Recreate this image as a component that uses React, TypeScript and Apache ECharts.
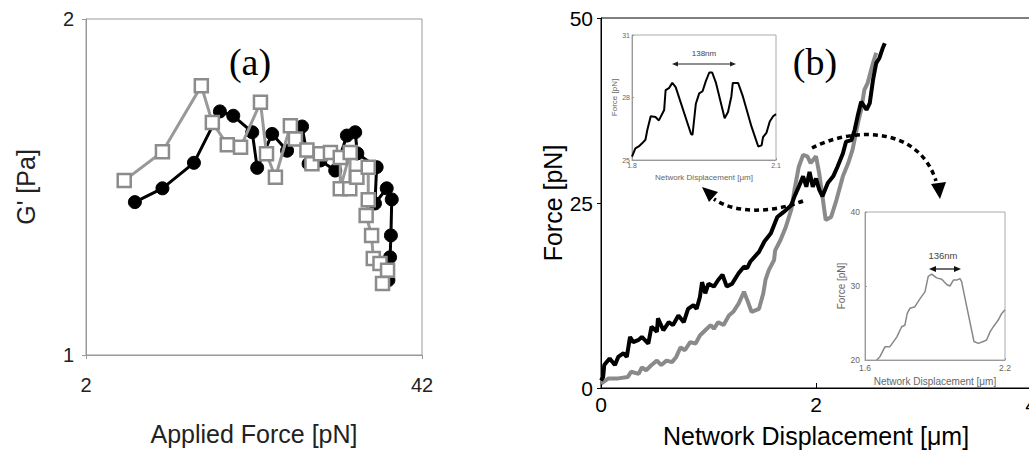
import React, { useEffect, useRef } from "react";
import * as echarts from "echarts";

// Panel (a): G' vs applied force
const aBlack: [number, number][] = [
  [7.82, 1.455], [11.1, 1.496], [14.85, 1.572], [17.94, 1.725], [19.53, 1.712],
  [21.79, 1.663], [22.38, 1.557], [24.16, 1.658], [25.94, 1.608], [27.72, 1.68],
  [28.5, 1.569], [29.9, 1.579], [31.67, 1.549], [33.06, 1.653], [34.05, 1.663],
  [34.3, 1.6], [36.6, 1.559], [36.4, 1.451], [37.8, 1.496], [38.4, 1.463],
  [38.3, 1.356], [38.2, 1.291], [38.0, 1.223],
];
const aGray: [number, number][] = [
  [6.55, 1.519], [11.1, 1.605], [15.73, 1.801], [17.04, 1.692], [18.82, 1.626],
  [20.4, 1.618], [22.77, 1.752], [23.49, 1.599], [24.55, 1.529], [26.33, 1.682],
  [26.93, 1.643], [28.3, 1.61], [28.9, 1.569], [29.9, 1.599], [31.1, 1.603],
  [32.27, 1.588], [32.27, 1.495], [33.45, 1.603], [33.4, 1.495], [34.25, 1.529],
  [35.6, 1.559], [35.6, 1.462], [35.35, 1.415], [36.0, 1.356], [36.2, 1.287],
  [37.0, 1.272], [37.9, 1.252], [37.3, 1.213],
];

// Panel (b): force vs network displacement
const bBlack: [number, number][] = [
  [0.0, 1.0], [0.02, 1.5], [0.03, 3.1], [0.08, 4.0], [0.13, 3.1], [0.16, 4.2],
  [0.21, 4.7], [0.24, 4.2], [0.27, 6.9], [0.3, 6.2], [0.35, 6.5], [0.38, 6.9],
  [0.44, 6.0], [0.47, 8.3], [0.52, 7.6], [0.53, 9.4], [0.58, 7.8], [0.63, 8.9],
  [0.67, 8.5], [0.72, 9.8], [0.77, 8.9], [0.81, 10.7], [0.86, 11.2], [0.89, 10.7],
  [0.92, 12.3], [0.94, 14.3], [0.97, 12.8], [1.0, 14.1], [1.05, 13.7], [1.09, 14.6],
  [1.13, 15.3], [1.17, 13.7], [1.22, 14.1], [1.28, 15.5], [1.33, 16.4], [1.36, 16.2],
  [1.39, 17.1], [1.47, 18.4], [1.52, 19.8], [1.58, 20.9], [1.64, 23.1], [1.7, 23.8],
  [1.77, 24.7], [1.8, 25.9], [1.84, 27.2], [1.88, 28.6], [1.91, 27.2], [1.94, 29.2],
  [1.97, 27.2], [2.0, 28.3], [2.03, 26.8], [2.06, 25.9], [2.11, 27.7], [2.16, 28.6],
  [2.2, 29.9], [2.25, 31.7], [2.28, 33.3], [2.33, 33.5], [2.36, 34.9], [2.39, 36.9],
  [2.42, 38.7], [2.47, 37.6], [2.5, 38.5], [2.53, 41.6], [2.56, 43.9], [2.59, 44.6],
  [2.62, 45.9], [2.64, 46.6],
];
const bGray: [number, number][] = [
  [0.0, 0.6], [0.02, 0.8], [0.07, 1.3], [0.16, 1.3], [0.25, 1.5], [0.28, 2.2],
  [0.35, 1.9], [0.38, 2.8], [0.42, 2.4], [0.47, 3.1], [0.52, 3.7], [0.56, 3.1],
  [0.61, 3.7], [0.66, 3.5], [0.7, 4.2], [0.74, 5.5], [0.78, 5.1], [0.83, 6.2],
  [0.88, 6.0], [0.92, 7.1], [0.97, 7.8], [1.02, 8.5], [1.05, 8.0], [1.09, 8.9],
  [1.14, 8.5], [1.19, 9.8], [1.23, 10.3], [1.28, 11.4], [1.33, 13.0], [1.36, 11.9],
  [1.4, 10.3], [1.47, 10.7], [1.51, 12.8], [1.53, 14.6], [1.56, 15.9], [1.61, 17.3],
  [1.62, 18.6], [1.67, 20.0], [1.72, 21.8], [1.77, 24.1], [1.8, 26.8], [1.84, 29.9],
  [1.88, 31.5], [1.92, 31.3], [1.95, 30.4], [2.0, 31.3], [2.03, 29.0], [2.06, 25.9],
  [2.09, 22.7], [2.14, 23.1], [2.19, 25.4], [2.25, 28.6], [2.3, 30.4], [2.34, 32.2],
  [2.39, 35.8], [2.42, 37.6], [2.45, 40.3], [2.48, 41.2], [2.53, 43.9], [2.56, 45.3],
];

// Inset 1 (black, 1.8–2.1 µm)
const inset1: [number, number][] = [
  [1.8, 25.16], [1.807, 25.56], [1.814, 25.65], [1.821, 25.8], [1.828, 25.97],
  [1.832, 26.45], [1.839, 27.1], [1.849, 27.06], [1.856, 26.9], [1.867, 27.4],
  [1.87, 28.35], [1.877, 28.45], [1.884, 28.7], [1.891, 28.5], [1.923, 26.25],
  [1.926, 26.2], [1.933, 27.7], [1.94, 28.2], [1.947, 28.3], [1.954, 28.8],
  [1.961, 29.2], [1.967, 29.2], [1.975, 28.7], [1.993, 27.0], [2.0, 27.3],
  [2.007, 28.05], [2.01, 28.7], [2.021, 28.7], [2.031, 28.05], [2.049, 26.6],
  [2.063, 25.65], [2.07, 25.7], [2.073, 26.1], [2.08, 26.3], [2.087, 26.85],
  [2.094, 27.1], [2.1, 27.2],
];

// Inset 2 (gray, 1.6–2.2 µm)
const inset2: [number, number][] = [
  [1.65, 20.0], [1.664, 20.45], [1.686, 21.8], [1.707, 21.8], [1.736, 23.1],
  [1.757, 24.5], [1.771, 24.7], [1.781, 26.3], [1.793, 27.0], [1.814, 27.2],
  [1.836, 28.3], [1.857, 29.2], [1.871, 31.3], [1.886, 31.6], [1.907, 31.1],
  [1.929, 30.9], [1.95, 30.2], [1.964, 30.0], [1.979, 30.8], [1.993, 30.8],
  [2.007, 31.0], [2.014, 30.6], [2.036, 27.2], [2.067, 22.5], [2.086, 22.25],
  [2.107, 22.5], [2.121, 22.7], [2.136, 23.8], [2.15, 24.5], [2.171, 25.4],
  [2.186, 26.3], [2.2, 26.8],
];

const SANS = "Liberation Sans, Arial, sans-serif";
const SERIF = "Liberation Serif, Times New Roman, serif";

export default function App() {
  const ref = useRef<HTMLDivElement>(null);
  useEffect(() => {
    if (!ref.current) return;
    const chart = echarts.init(ref.current, undefined, { renderer: "svg" });
    const smallAxis = (grid: number, min: number, max: number, interval: number, fs: number, margin: number, name: string, gap: number, nfs: number, isY: boolean) => ({
      type: "value",
      gridIndex: grid,
      min, max, interval,
      axisLine: { show: true, lineStyle: { color: "#999", width: 1 } },
      axisTick: { show: true, inside: true, length: 2, lineStyle: { color: "#999" } },
      splitLine: { show: false },
      axisLabel: { fontSize: fs, color: "#666", fontFamily: SANS, margin, showMinLabel: true, showMaxLabel: true, hideOverlap: false },
      name,
      nameLocation: "middle",
      nameGap: gap,
      nameRotate: isY ? 90 : 0,
      nameTextStyle: { fontSize: nfs, color: "#666", fontFamily: SANS },
      z: 11,
    });
    const gridBase = { show: true, borderWidth: 1, containLabel: false, outerBoundsMode: "none" };

    chart.setOption({
      animation: false,
      backgroundColor: "#fff",
      grid: [
        { ...gridBase, left: 86, top: 19, width: 336, height: 336, borderColor: "#999", backgroundColor: "transparent" },
        { ...gridBase, left: 601, top: 18, width: 430, height: 370, borderColor: "#000", backgroundColor: "transparent" },
        { ...gridBase, left: 632, top: 35, width: 144, height: 125, borderColor: "#aaa", backgroundColor: "#fff", z: 10 },
        { ...gridBase, left: 865, top: 212, width: 140, height: 148, borderColor: "#aaa", backgroundColor: "#fff", z: 10 },
      ],
      xAxis: [
        {
          type: "value", gridIndex: 0, min: 2, max: 42, interval: 40,
          axisLine: { lineStyle: { color: "#999" } },
          axisTick: { show: true, length: 4, lineStyle: { color: "#999" } },
          splitLine: { show: false },
          axisLabel: { fontSize: 20, color: "#222", fontFamily: SANS, margin: 20 },
          name: "Applied Force [pN]", nameLocation: "middle", nameGap: 66,
          nameTextStyle: { fontSize: 25, color: "#222", fontFamily: SANS },
        },
        {
          type: "value", gridIndex: 1, min: 0, max: 4, interval: 2,
          axisLine: { lineStyle: { color: "#000" } },
          axisTick: { show: true, inside: true, length: 5, lineStyle: { color: "#000" } },
          splitLine: { show: false },
          axisLabel: { fontSize: 21, color: "#000", fontFamily: SANS, margin: 6 },
          name: "Network Displacement [μm]", nameLocation: "middle", nameGap: 35,
          nameTextStyle: { fontSize: 25, color: "#000", fontFamily: SANS },
        },
        smallAxis(2, 1.8, 2.1, 0.3, 7, 2, "Network Displacement [μm]", 13, 8, false),
        smallAxis(3, 1.6, 2.2, 0.6, 8.5, 3, "Network Displacement [μm]", 16, 10, false),
      ],
      yAxis: [
        {
          type: "value", gridIndex: 0, min: 1, max: 2, interval: 1,
          axisLine: { show: true, lineStyle: { color: "#999" } },
          axisTick: { show: true, length: 4, lineStyle: { color: "#999" } },
          splitLine: { show: false },
          axisLabel: { fontSize: 20, color: "#222", fontFamily: SANS, margin: 12 },
          name: "G' [Pa]", nameLocation: "middle", nameGap: 48, nameRotate: 90,
          nameTextStyle: { fontSize: 25, color: "#222", fontFamily: SANS },
        },
        {
          type: "value", gridIndex: 1, min: 0, max: 50, interval: 25,
          axisLine: { show: true, lineStyle: { color: "#000" } },
          axisTick: { show: true, length: 4, lineStyle: { color: "#000" } },
          splitLine: { show: false },
          axisLabel: { fontSize: 21, color: "#000", fontFamily: SANS, margin: 8 },
          name: "Force [pN]", nameLocation: "middle", nameGap: 36, nameRotate: 90,
          nameTextStyle: { fontSize: 25, color: "#000", fontFamily: SANS },
        },
        smallAxis(2, 25, 31, 3, 7, 2, "Force [pN]", 12, 8, true),
        smallAxis(3, 20, 40, 10, 8.5, 5, "Force [pN]", 16, 10, true),
      ],
      series: [
        {
          type: "line", xAxisIndex: 0, yAxisIndex: 0, data: aBlack,
          symbol: "circle", symbolSize: 13, showAllSymbol: true,
          lineStyle: { color: "#000", width: 3 },
          itemStyle: { color: "#000", borderColor: "#000", borderWidth: 1 },
          z: 3,
        },
        {
          type: "line", xAxisIndex: 0, yAxisIndex: 0, data: aGray,
          symbol: "rect", symbolSize: 13, showAllSymbol: true,
          lineStyle: { color: "#999", width: 3 },
          itemStyle: { color: "#fff", borderColor: "#8c8c8c", borderWidth: 2.5 },
          z: 4,
        },
        {
          type: "line", xAxisIndex: 1, yAxisIndex: 1, data: bBlack, symbol: "none",
          lineStyle: { color: "#000", width: 4 }, z: 3,
        },
        {
          type: "line", xAxisIndex: 1, yAxisIndex: 1, data: bGray, symbol: "none",
          lineStyle: { color: "#8a8a8a", width: 4 }, z: 2,
        },
        {
          type: "line", xAxisIndex: 2, yAxisIndex: 2, data: inset1, symbol: "none",
          lineStyle: { color: "#000", width: 2 }, z: 12,
        },
        {
          type: "line", xAxisIndex: 3, yAxisIndex: 3, data: inset2, symbol: "none",
          lineStyle: { color: "#888", width: 1.5 }, z: 12,
        },
      ],
      graphic: [
        { type: "text", x: 250, y: 62, z: 20, style: { text: "(a)", font: `38px ${SERIF}`, fill: "#000", align: "center", verticalAlign: "middle" } },
        { type: "text", x: 815, y: 62, z: 20, style: { text: "(b)", font: `38px ${SERIF}`, fill: "#000", align: "center", verticalAlign: "middle" } },
        // inset annotations
        { type: "text", x: 704, y: 53, z: 20, style: { text: "138nm", font: `8px ${SANS}`, fill: "#444", align: "center", verticalAlign: "middle" } },
        { type: "line", z: 20, shape: { x1: 676, y1: 64, x2: 732, y2: 64 }, style: { stroke: "#222", lineWidth: 1 } },
        { type: "polygon", z: 20, shape: { points: [[672, 64], [678, 61.5], [678, 66.5]] }, style: { fill: "#222" } },
        { type: "polygon", z: 20, shape: { points: [[736, 64], [730, 61.5], [730, 66.5]] }, style: { fill: "#222" } },
        { type: "text", x: 943, y: 255, z: 20, style: { text: "136nm", font: `9.5px ${SANS}`, fill: "#444", align: "center", verticalAlign: "middle" } },
        { type: "line", z: 20, shape: { x1: 934, y1: 269, x2: 956, y2: 269 }, style: { stroke: "#111", lineWidth: 1.2 } },
        { type: "polygon", z: 20, shape: { points: [[929, 269], [936, 266], [936, 272]] }, style: { fill: "#111" } },
        { type: "polygon", z: 20, shape: { points: [[961, 269], [954, 266], [954, 272]] }, style: { fill: "#111" } },
        // dotted arrows
        { type: "bezierCurve", z: 20, shape: { x1: 803, y1: 201, cpx1: 772, cpy1: 213, cpx2: 735, cpy2: 214, x2: 714, y2: 199 }, style: { stroke: "#000", lineWidth: 3.5, lineDash: [5, 4], fill: "none" } },
        { type: "polygon", z: 20, shape: { points: [[702, 187], [718, 192], [709, 202]] }, style: { fill: "#000" } },
        { type: "bezierCurve", z: 20, shape: { x1: 812, y1: 148, cpx1: 850, cpy1: 128, cpx2: 918, cpy2: 124, x2: 936, y2: 181 }, style: { stroke: "#000", lineWidth: 3.5, lineDash: [5, 4], fill: "none" } },
        { type: "polygon", z: 20, shape: { points: [[940, 199], [931, 184], [946, 182]] }, style: { fill: "#000" } },
      ],
    });
    return () => chart.dispose();
  }, []);
  return <div ref={ref} style={{ position: "absolute", left: 0, top: 0, width: 1029, height: 451 }} />;
}
